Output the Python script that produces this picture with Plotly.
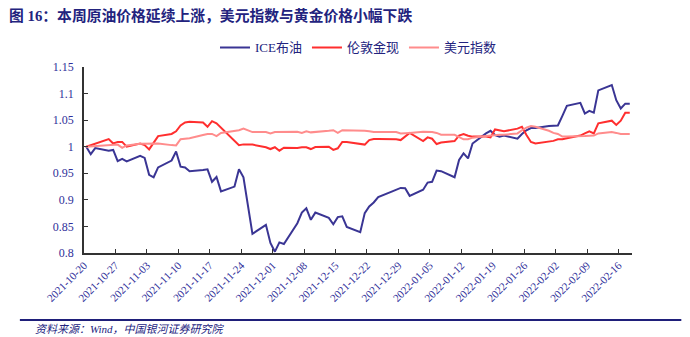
import pandas as pd
import plotly.graph_objects as go

# Trading days (weekdays) covered by the chart
dates = pd.bdate_range("2021-10-20", "2022-02-18")

# Normalised series (2021-10-20 = 1)
ice_brent = [
    1.000, 0.986, 0.9975,
    0.9925, 0.994, 0.973, 0.977, 0.9725,
    0.983, 0.979, 0.947, 0.9425, 0.961,
    0.974, 0.991, 0.9625, 0.961, 0.954,
    0.956, 0.9575, 0.934, 0.943, 0.916,
    0.925, 0.9575, 0.9425, 0.889, 0.836,
    0.853, 0.819, 0.8025, 0.820, 0.817,
    0.856, 0.876, 0.884, 0.8625, 0.876,
    0.866, 0.854, 0.8675, 0.869, 0.849,
    0.839, 0.875, 0.8875, 0.895, 0.905,
    0.9156, 0.919, 0.9225, 0.922, 0.9075,
    0.919, 0.9325, 0.934, 0.955, 0.954,
    0.9425, 0.975, 0.9875, 0.978, 1.006,
    1.025, 1.030, 1.022, 1.019, 1.021,
    1.015, 1.024, 1.031, 1.035, 1.035,
    1.039, 1.039, 1.040, 1.058, 1.077,
    1.0825, 1.0625, 1.0675, 1.064, 1.106,
    1.116, 1.0875, 1.072, 1.081, 1.081,
]

london_gold = [
    1.000, 1.003, 1.006,
    1.0144, 1.006, 1.009, 1.009, 1.000,
    1.006, 1.003, 0.995, 1.008, 1.020,
    1.024, 1.029, 1.040, 1.0456, 1.047,
    1.0456, 1.0375, 1.048, 1.044, 1.0356,
    1.0106, 1.003, 1.0044, 1.0044, 1.004,
    0.999, 0.9956, 0.999, 0.9925, 0.998,
    0.9975, 0.999, 0.999, 0.9956, 0.9994,
    1.000, 0.994, 0.997, 1.009, 1.009,
    1.005, 1.004, 1.0125, 1.0144, 1.0145,
    1.015, 1.014, 1.0125, 1.019, 1.026,
    1.0106, 1.0175, 1.015, 1.005, 1.008,
    1.0106, 1.021, 1.024, 1.0206, 1.019,
    1.019, 1.0175, 1.0325, 1.031, 1.029,
    1.034, 1.0375, 1.022, 1.009, 1.006,
    1.010, 1.011, 1.014, 1.014, 1.016,
    1.021, 1.025, 1.029, 1.025, 1.044,
    1.049, 1.041, 1.049, 1.064, 1.064,
]

usd_index = [
    1.000, 1.0006, 1.002,
    1.004, 1.0044, 1.004, 0.998, 1.0025,
    1.0056, 1.0056, 1.007, 1.006, 1.006,
    1.003, 1.0025, 1.014, 1.015, 1.016,
    1.022, 1.024, 1.024, 1.020, 1.026,
    1.0306, 1.031, 1.034, 1.0306, 1.0275,
    1.0275, 1.025, 1.0275, 1.0275, 1.028,
    1.028, 1.026, 1.029, 1.027, 1.0275,
    1.030, 1.031, 1.026, 1.031, 1.031,
    1.0306, 1.030, 1.029, 1.0275, 1.0275,
    1.027, 1.0275, 1.025, 1.026, 1.026,
    1.028, 1.028, 1.0275, 1.026, 1.0225,
    1.0225, 1.0175, 1.014, 1.014, 1.017,
    1.020, 1.021, 1.022, 1.0225, 1.0225,
    1.025, 1.031, 1.036, 1.039, 1.0375,
    1.030, 1.026, 1.024, 1.019, 1.019,
    1.019, 1.020, 1.0206, 1.021, 1.025,
    1.0275, 1.026, 1.024, 1.024, 1.024,
]

series_names = ["ICE布油", "伦敦金现", "美元指数"]
series_colors = ["#3A3594", "#FF2E2E", "#FF8C8C"]

y_ticks = [0.8, 0.85, 0.9, 0.95, 1.0, 1.05, 1.1, 1.15]
y_ticktext = ["0.8", "0.85", "0.9", "0.95", "1", "1.05", "1.1", "1.15"]
x_ticks = pd.date_range("2021-10-20", "2022-02-16", freq="7D")

title_text = "图 16：本周原油价格延续上涨，美元指数与黄金价格小幅下跌"
source_text = "资料来源：Wind，中国银河证券研究院"

NAVY = "#23237E"
TICK_BLUE = "#2F2F9A"
SERIF = "Liberation Serif, Noto Sans CJK SC, serif"

# each daily close is drawn in the middle of its day slot
x_pos = dates + pd.Timedelta(hours=12)

fig = go.Figure()
for name, vals, col in zip(series_names, [ice_brent, london_gold, usd_index], series_colors):
    fig.add_trace(go.Scatter(
        x=x_pos, y=vals, name=name, mode="lines",
        line=dict(color=col, width=2),
    ))

fig.update_layout(
    width=690, height=337,
    margin=dict(l=84, r=58, t=67, b=84),
    paper_bgcolor="white", plot_bgcolor="white",
    showlegend=True,
    legend=dict(
        orientation="h", x=0.5, xanchor="center", y=1.105, yanchor="middle",
        font=dict(family=SERIF, size=13, color=NAVY),
        itemwidth=30, tracegroupgap=0,
    ),
    font=dict(family=SERIF, color=TICK_BLUE),
)

fig.update_xaxes(
    type="date",
    range=["2021-10-20", "2022-02-19"],
    tickvals=x_ticks,
    ticktext=[d.strftime("%Y-%m-%d") for d in x_ticks],
    tickangle=-45,
    tickfont=dict(family="Liberation Serif", size=11, color=TICK_BLUE),
    showline=True, linecolor="#333333", linewidth=1.5,
    ticks="inside", ticklen=4, tickcolor="#333333", tickwidth=1,
    showgrid=False, zeroline=False,
)

fig.update_yaxes(
    range=[0.8, 1.15],
    tickvals=y_ticks, ticktext=y_ticktext,
    tickfont=dict(family="Liberation Serif", size=12, color=TICK_BLUE),
    showline=True, linecolor="#333333", linewidth=1.5,
    ticks="inside", ticklen=4, tickcolor="#333333", tickwidth=1,
    ticklabelstandoff=6,
    showgrid=False, zeroline=False,
)

# title
fig.add_annotation(
    text="<b>" + title_text + "</b>",
    xref="paper", yref="paper", x=-0.14, y=1.275,
    xanchor="left", yanchor="middle", showarrow=False,
    font=dict(family=SERIF, size=14.8, color=NAVY),
)

# rule above the source note
fig.add_shape(
    type="line", xref="paper", yref="paper",
    x0=-0.117, x1=1.09, y0=-0.36, y1=-0.36,
    line=dict(color="#1F1F7A", width=2),
)

# source note
fig.add_annotation(
    text="<i>" + source_text + "</i>",
    xref="paper", yref="paper", x=-0.093, y=-0.41,
    xanchor="left", yanchor="middle", showarrow=False,
    font=dict(family=SERIF, size=11, color=NAVY),
)

fig.write_html("out.html")
